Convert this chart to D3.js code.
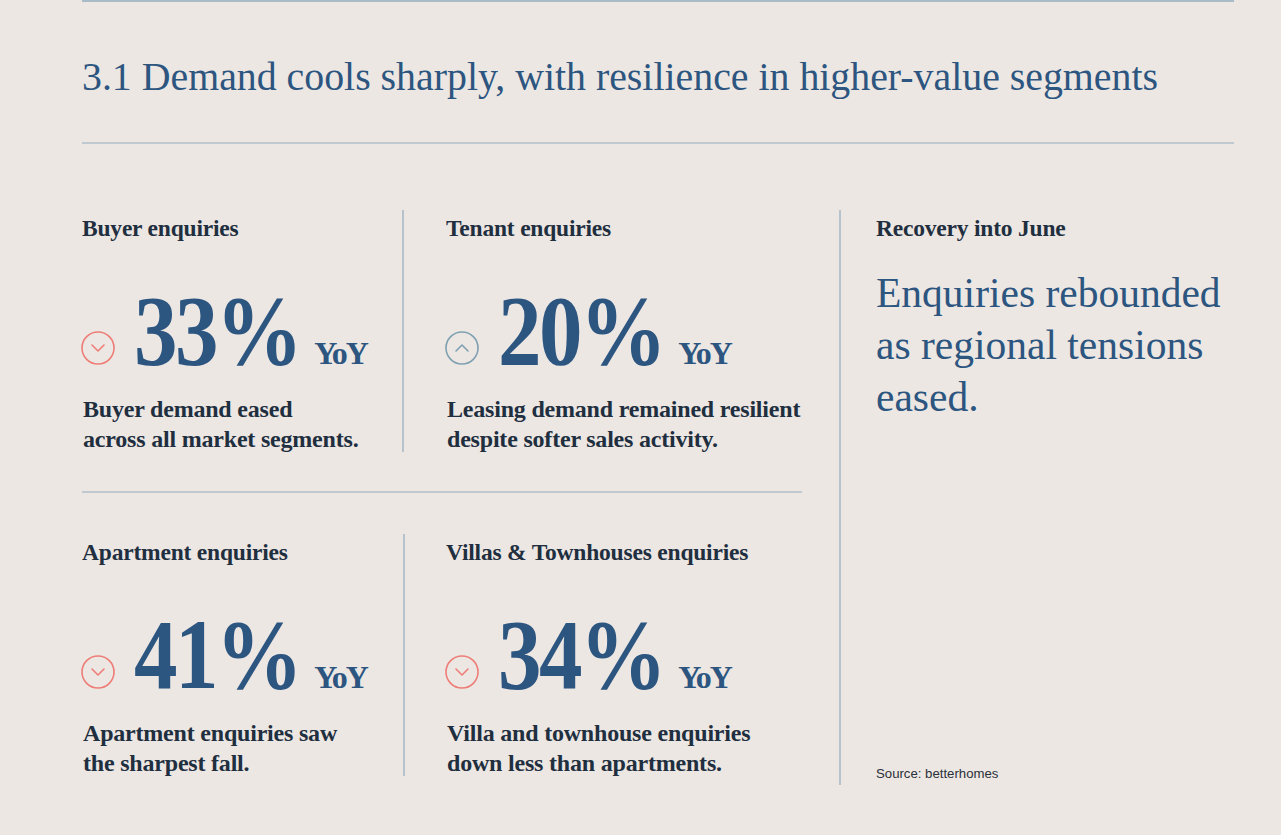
<!DOCTYPE html>
<html>
<head>
<meta charset="utf-8">
<script src="https://cdn.jsdelivr.net/npm/d3@7"></script>
<style>
  html, body { margin: 0; padding: 0; background: #ece7e3; }
  svg { display: block; }
  .serif { font-family: "Liberation Serif", "DejaVu Serif", serif; }
</style>
</head>
<body>
<svg id="chart" width="1281" height="835"></svg>
<script>
// ---- data ----
var title = "3.1 Demand cools sharply, with resilience in higher-value segments";
var headings = ["Buyer enquiries", "Tenant enquiries", "Apartment enquiries", "Villas & Townhouses enquiries"];
var changes = [33, 20, 41, 34];
var directions = ["down", "up", "down", "down"];
var notes = [
  ["Buyer demand eased", "across all market segments."],
  ["Leasing demand remained resilient", "despite softer sales activity."],
  ["Apartment enquiries saw", "the sharpest fall."],
  ["Villa and townhouse enquiries", "down less than apartments."]
];
var sideHeading = "Recovery into June";
var sideText = ["Enquiries rebounded", "as regional tensions", "eased."];
var source = "Source: betterhomes";

// ---- style ----
var blue = "#2c5580", dark = "#1f2f3f", rule = "#93acbd";
var down = "#ee7d77", up = "#7fa0b1";

var svg = d3.select("#chart");
svg.append("rect").attr("width", 1281).attr("height", 835).attr("fill", "#ece7e3");

// panel grid: 2 columns x 2 rows
var colX = d3.scaleOrdinal().domain([0, 1]).range([82, 446]);
var rowY = d3.scaleOrdinal().domain([0, 1]).range([0, 324]);

// squeeze text to a max width, keeping its height
function fit(sel, w) {
  sel.each(function() {
    var len = this.getComputedTextLength();
    if (len > w) d3.select(this).attr("textLength", w).attr("lengthAdjust", "spacingAndGlyphs");
  });
}

// rules
svg.append("line").attr("x1", 82).attr("x2", 1234).attr("y1", 1).attr("y2", 1)
  .attr("stroke", rule).attr("stroke-width", 1.5);
svg.append("line").attr("x1", 82).attr("x2", 1234).attr("y1", 143).attr("y2", 143)
  .attr("stroke", rule).attr("stroke-width", 1.2);
svg.append("line").attr("x1", 82).attr("x2", 802).attr("y1", 492).attr("y2", 492)
  .attr("stroke", rule).attr("stroke-width", 1.2);
svg.append("line").attr("x1", 403).attr("x2", 403).attr("y1", 210).attr("y2", 452)
  .attr("stroke", rule).attr("stroke-width", 1.2);
svg.append("line").attr("x1", 404).attr("x2", 404).attr("y1", 534).attr("y2", 776)
  .attr("stroke", rule).attr("stroke-width", 1.2);
svg.append("line").attr("x1", 840).attr("x2", 840).attr("y1", 210).attr("y2", 785)
  .attr("stroke", rule).attr("stroke-width", 1.2);

// title
svg.append("text").attr("class", "serif")
  .attr("x", 82).attr("y", 90)
  .attr("font-size", 41).attr("fill", blue)
  .text(title)
  .call(fit, 1076);

// panels
var panels = svg.selectAll("g.panel")
  .data(headings.map(function(h, i) {
    return { heading: h, value: changes[i], dir: directions[i], note: notes[i], col: i % 2, row: Math.floor(i / 2) };
  }))
  .enter().append("g")
  .attr("class", "panel")
  .attr("transform", function(d) { return "translate(" + colX(d.col) + "," + rowY(d.row) + ")"; });

panels.append("text").attr("class", "serif")
  .attr("x", 0).attr("y", 236)
  .attr("font-size", 23.5).attr("font-weight", "bold").attr("fill", dark)
  .attr("letter-spacing", -0.2)
  .text(function(d) { return d.heading; });

var icon = panels.append("g")
  .attr("transform", "translate(16,348)");
icon.append("circle").attr("r", 16).attr("fill", "none")
  .attr("stroke-width", 1.6)
  .attr("stroke", function(d) { return d.dir === "down" ? down : up; });
icon.append("path").attr("fill", "none").attr("stroke-width", 1.6)
  .attr("stroke-linecap", "round").attr("stroke-linejoin", "round")
  .attr("stroke", function(d) { return d.dir === "down" ? down : up; })
  .attr("d", function(d) { return d.dir === "down" ? "M-6,-3L0,3L6,-3" : "M-6,3L0,-3L6,3"; });

var big = panels.append("text").attr("class", "serif")
  .attr("y", 364).attr("fill", blue)
  .attr("font-size", 100).attr("font-weight", "bold")
  .attr("letter-spacing", -3)
  .attr("transform", "translate(52,0) scale(0.87,1)")
  .text(function(d) { return d.value + "%"; });

panels.append("text").attr("class", "serif")
  .attr("x", function(d, i) {
    var n = big.nodes()[i];
    return 52 + n.getComputedTextLength() * 0.87 + 14;
  })
  .attr("y", 364).attr("fill", blue)
  .attr("font-size", 32).attr("font-weight", "bold")
  .attr("letter-spacing", -2)
  .text("YoY");

panels.append("text").attr("class", "serif")
  .attr("font-size", 24).attr("font-weight", "bold").attr("fill", dark)
  .attr("letter-spacing", -0.2)
  .selectAll("tspan")
  .data(function(d) { return d.note; })
  .enter().append("tspan")
  .attr("x", 1)
  .attr("y", function(d, i) { return 417 + i * 30; })
  .text(function(d) { return d; });

// side column
svg.append("text").attr("class", "serif")
  .attr("x", 876).attr("y", 236)
  .attr("font-size", 23.5).attr("font-weight", "bold").attr("fill", dark)
  .attr("letter-spacing", -0.2)
  .text(sideHeading);

svg.append("text").attr("class", "serif")
  .attr("font-size", 41.5).attr("fill", blue)
  .selectAll("tspan")
  .data(sideText)
  .enter().append("tspan")
  .attr("x", 876)
  .attr("y", function(d, i) { return 307 + i * 52; })
  .text(function(d) { return d; });

svg.append("text")
  .attr("x", 876).attr("y", 778)
  .attr("font-family", "'Liberation Sans', Arial, sans-serif")
  .attr("font-size", 13.2).attr("fill", "#2a3038")
  .text(source);
</script>
</body>
</html>
